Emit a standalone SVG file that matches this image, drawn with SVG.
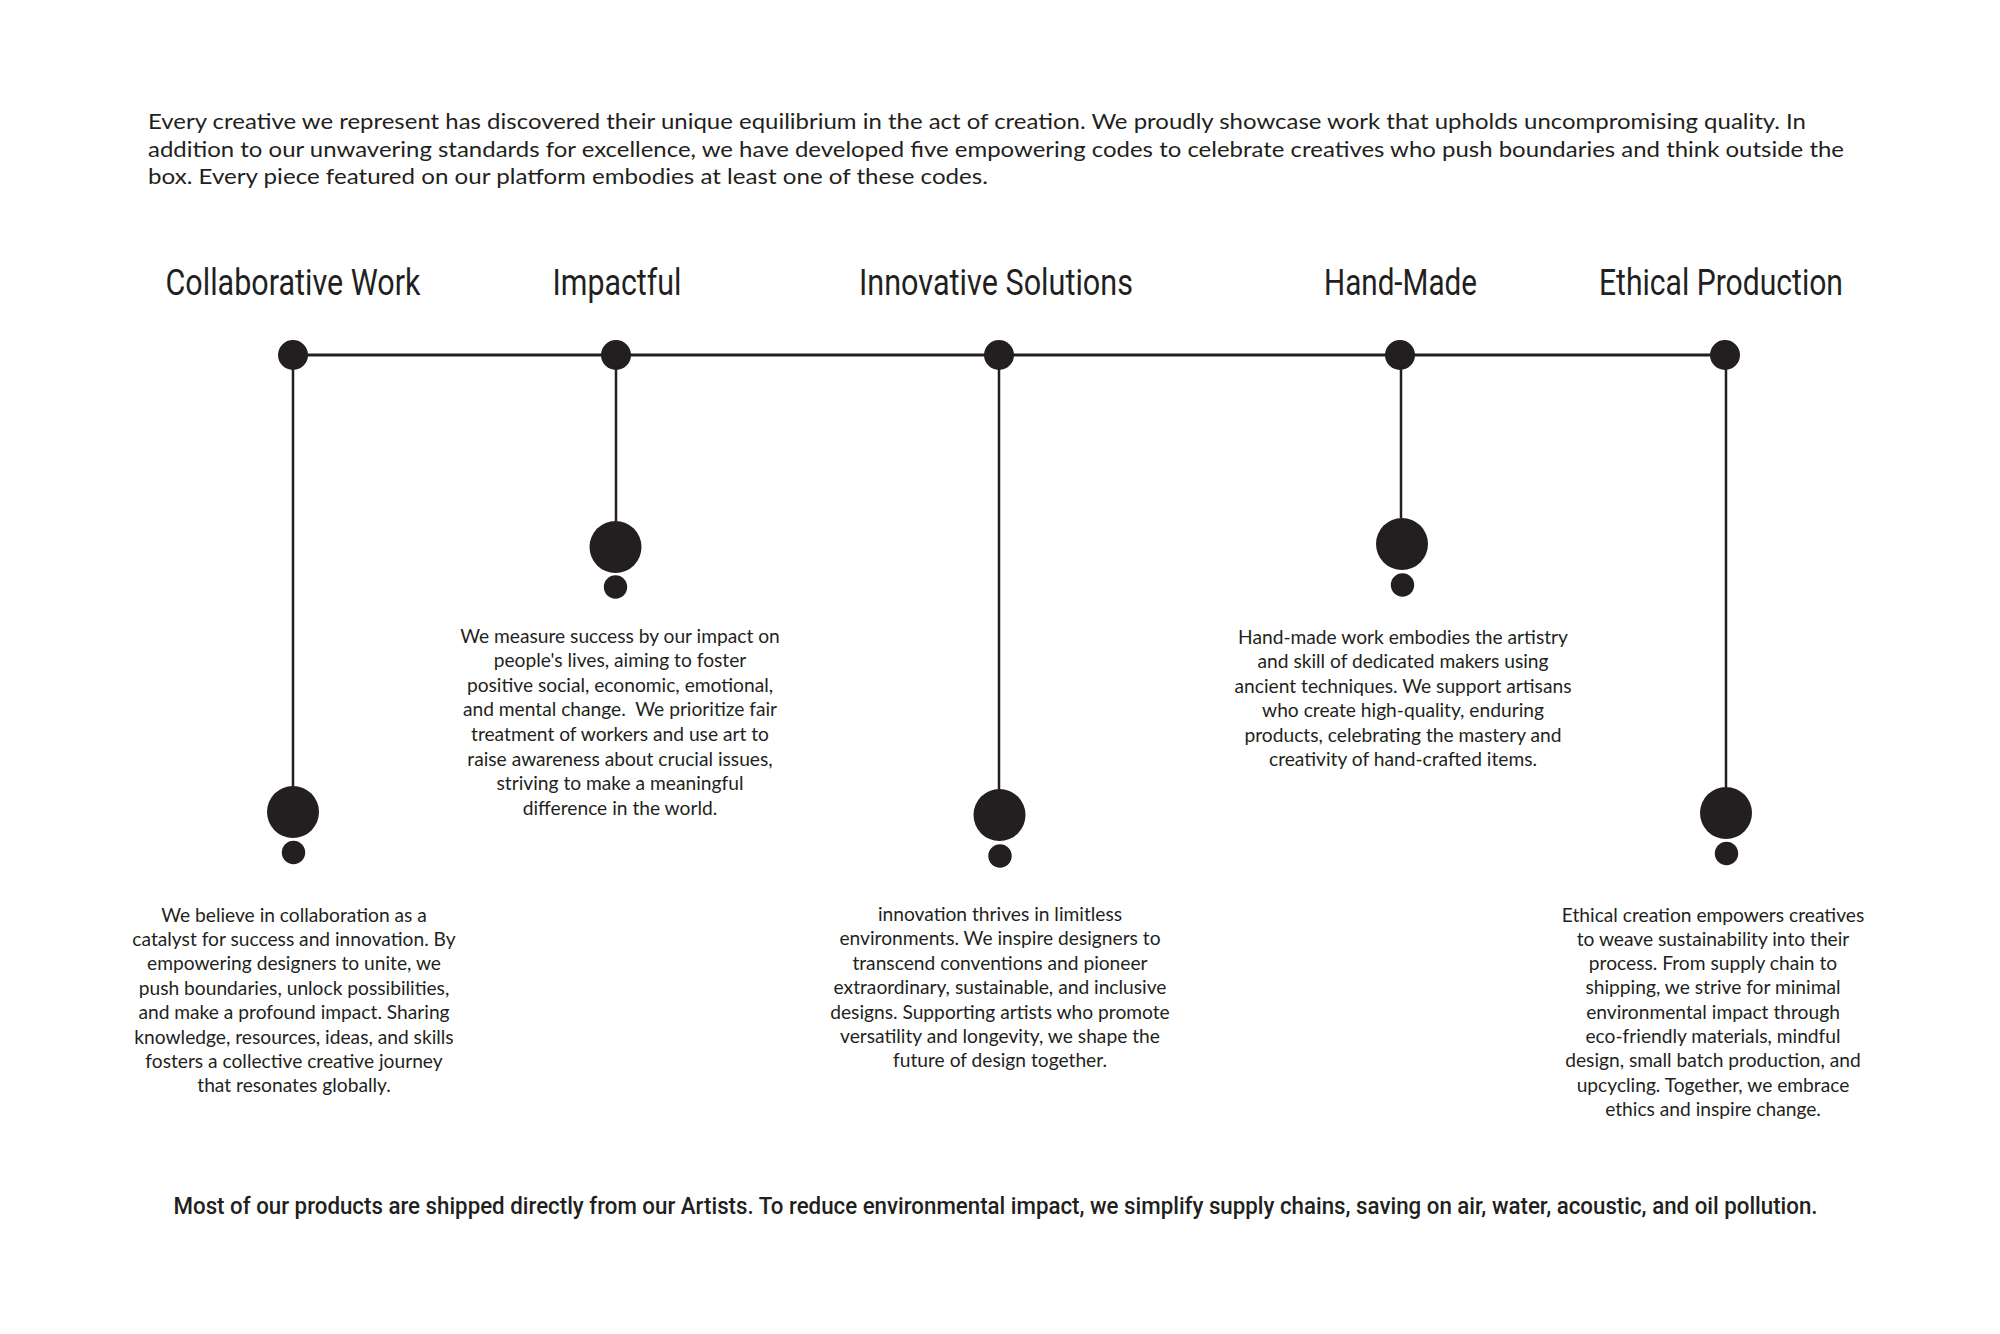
<svg xmlns="http://www.w3.org/2000/svg" width="2000" height="1334" viewBox="0 0 2000 1334">
<style>
.intro{font-family:"Lato","Liberation Sans",sans-serif;font-size:22px;fill:#231f20;}
.head{font-family:"Liberation Sans Narrow","Roboto","Liberation Sans",sans-serif;font-size:36px;font-weight:400;fill:#231f20;text-anchor:middle;}
.body{font-family:"Lato","Liberation Sans",sans-serif;font-size:19.2px;fill:#231f20;text-anchor:middle;white-space:pre;}
.foot{font-family:"Liberation Sans Narrow","Roboto","Liberation Sans",sans-serif;font-size:24px;font-weight:500;fill:#231f20;text-anchor:middle;}
.dot{fill:#231f20;}
.line{stroke:#231f20;stroke-width:3;fill:none;}
.stem{stroke:#231f20;stroke-width:2.5;fill:none;}
</style>
<rect width="2000" height="1334" fill="#ffffff"/>
<g id="intro">
<text class="intro" x="148" y="129" textLength="1658" lengthAdjust="spacingAndGlyphs">Every creative we represent has discovered their unique equilibrium in the act of creation. We proudly showcase work that upholds uncompromising quality. In</text>
<text class="intro" x="148" y="156.5" textLength="1696" lengthAdjust="spacingAndGlyphs">addition to our unwavering standards for excellence, we have developed five empowering codes to celebrate creatives who push boundaries and think outside the</text>
<text class="intro" x="148" y="184" textLength="840" lengthAdjust="spacingAndGlyphs">box. Every piece featured on our platform embodies at least one of these codes.</text>
</g>
<g id="connectors">
<line class="line" x1="293" y1="355" x2="1725" y2="355"/>
<line class="stem" x1="293" y1="355" x2="293" y2="787"/>
<line class="stem" x1="616" y1="355" x2="616" y2="521"/>
<line class="stem" x1="999" y1="355" x2="999" y2="790"/>
<line class="stem" x1="1401" y1="355" x2="1401" y2="518"/>
<line class="stem" x1="1726" y1="355" x2="1726" y2="787"/>
</g>
<g id="node-collaborative">
<text class="head" x="293" y="295" textLength="255" lengthAdjust="spacingAndGlyphs">Collaborative Work</text>
<circle class="dot" cx="293" cy="355" r="15"/>
<circle class="dot" cx="293" cy="812" r="26"/>
<circle class="dot" cx="293.5" cy="852.5" r="11.7"/>
<text class="body" x="294" y="921.5"><tspan x="294">We believe in collaboration as a</tspan><tspan x="294" dy="24.4">catalyst for success and innovation. By</tspan><tspan x="294" dy="24.4">empowering designers to unite, we</tspan><tspan x="294" dy="24.4">push boundaries, unlock possibilities,</tspan><tspan x="294" dy="24.4">and make a profound impact. Sharing</tspan><tspan x="294" dy="24.4">knowledge, resources, ideas, and skills</tspan><tspan x="294" dy="24.4">fosters a collective creative journey</tspan><tspan x="294" dy="24.4">that resonates globally.</tspan></text>
</g>
<g id="node-impactful">
<text class="head" x="617" y="295" textLength="129" lengthAdjust="spacingAndGlyphs">Impactful</text>
<circle class="dot" cx="616" cy="355" r="15"/>
<circle class="dot" cx="615.5" cy="547" r="26"/>
<circle class="dot" cx="615.5" cy="587" r="11.7"/>
<text class="body" x="620" y="642.5"><tspan x="620">We measure success by our impact on</tspan><tspan x="620" dy="24.6">people's lives, aiming to foster</tspan><tspan x="620" dy="24.6">positive social, economic, emotional,</tspan><tspan x="620" dy="24.6">and mental change.  We prioritize fair</tspan><tspan x="620" dy="24.6">treatment of workers and use art to</tspan><tspan x="620" dy="24.6">raise awareness about crucial issues,</tspan><tspan x="620" dy="24.6">striving to make a meaningful</tspan><tspan x="620" dy="24.6">difference in the world.</tspan></text>
</g>
<g id="node-innovative">
<text class="head" x="996" y="295" textLength="274" lengthAdjust="spacingAndGlyphs">Innovative Solutions</text>
<circle class="dot" cx="999" cy="355" r="15"/>
<circle class="dot" cx="999.5" cy="815" r="26"/>
<circle class="dot" cx="1000" cy="856" r="11.7"/>
<text class="body" x="1000" y="921"><tspan x="1000">innovation thrives in limitless</tspan><tspan x="1000" dy="24.4">environments. We inspire designers to</tspan><tspan x="1000" dy="24.4">transcend conventions and pioneer</tspan><tspan x="1000" dy="24.4">extraordinary, sustainable, and inclusive</tspan><tspan x="1000" dy="24.4">designs. Supporting artists who promote</tspan><tspan x="1000" dy="24.4">versatility and longevity, we shape the</tspan><tspan x="1000" dy="24.4">future of design together.</tspan></text>
</g>
<g id="node-handmade">
<text class="head" x="1400.5" y="295" textLength="153" lengthAdjust="spacingAndGlyphs">Hand-Made</text>
<circle class="dot" cx="1400" cy="355" r="15"/>
<circle class="dot" cx="1402" cy="544" r="26"/>
<circle class="dot" cx="1402.5" cy="585" r="11.7"/>
<text class="body" x="1403" y="643.5"><tspan x="1403">Hand-made work embodies the artistry</tspan><tspan x="1403" dy="24.5">and skill of dedicated makers using</tspan><tspan x="1403" dy="24.5">ancient techniques. We support artisans</tspan><tspan x="1403" dy="24.5">who create high-quality, enduring</tspan><tspan x="1403" dy="24.5">products, celebrating the mastery and</tspan><tspan x="1403" dy="24.5">creativity of hand-crafted items.</tspan></text>
</g>
<g id="node-ethical">
<text class="head" x="1721" y="295" textLength="244" lengthAdjust="spacingAndGlyphs">Ethical Production</text>
<circle class="dot" cx="1725" cy="355" r="15"/>
<circle class="dot" cx="1726" cy="813" r="26"/>
<circle class="dot" cx="1726.5" cy="853.5" r="11.7"/>
<text class="body" x="1713" y="921.5"><tspan x="1713">Ethical creation empowers creatives</tspan><tspan x="1713" dy="24.3">to weave sustainability into their</tspan><tspan x="1713" dy="24.3">process. From supply chain to</tspan><tspan x="1713" dy="24.3">shipping, we strive for minimal</tspan><tspan x="1713" dy="24.3">environmental impact through</tspan><tspan x="1713" dy="24.3">eco-friendly materials, mindful</tspan><tspan x="1713" dy="24.3">design, small batch production, and</tspan><tspan x="1713" dy="24.3">upcycling. Together, we embrace</tspan><tspan x="1713" dy="24.3">ethics and inspire change.</tspan></text>
</g>
<g id="footer">
<text class="foot" x="995.5" y="1214" textLength="1644" lengthAdjust="spacingAndGlyphs">Most of our products are shipped directly from our Artists. To reduce environmental impact, we simplify supply chains, saving on air, water, acoustic, and oil pollution.</text>
</g>
</svg>
